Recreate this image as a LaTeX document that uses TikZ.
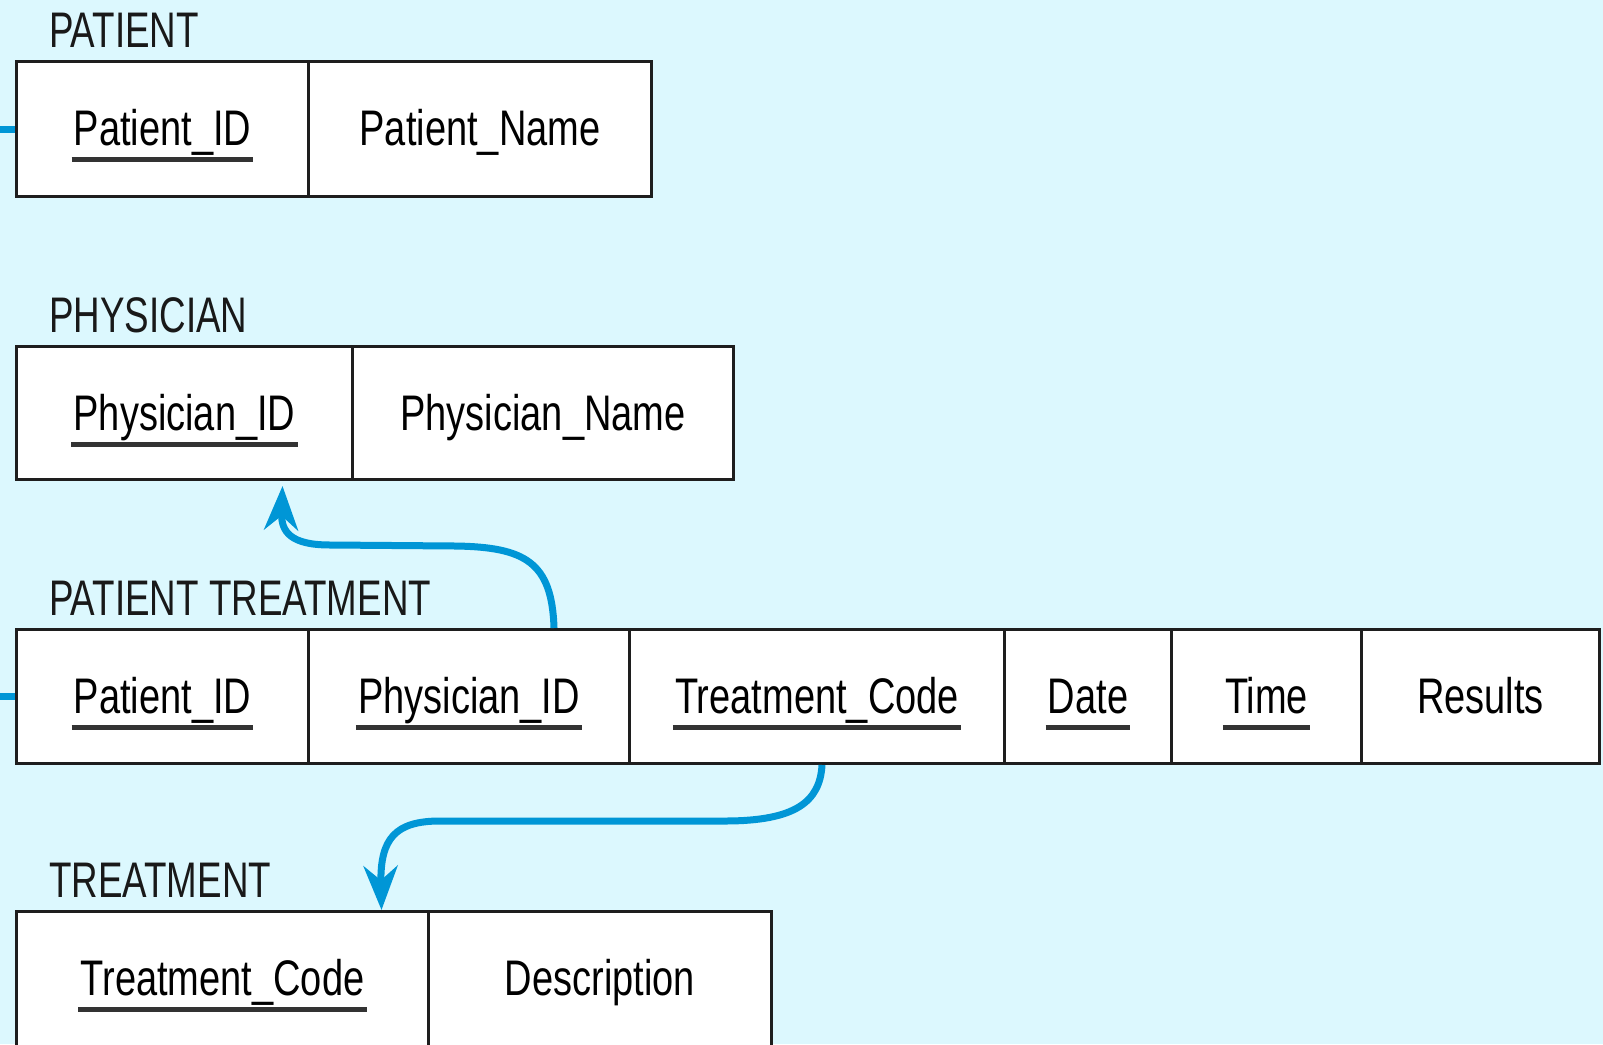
\documentclass[tikz,border=0pt]{standalone}
\usepackage{fontspec}
\newfontfamily\fieldfont[FakeStretch=0.76]{Liberation Sans}
\newfontfamily\titlefont[FakeStretch=0.735]{Liberation Sans}
\usetikzlibrary{arrows.meta}

\definecolor{bgcyan}{HTML}{DCF8FE}
\definecolor{linkblue}{HTML}{0096D6}
\definecolor{rulegray}{HTML}{1E1E1E}
\definecolor{ulgray}{HTML}{333333}

\tikzset{
  cellbox/.style={draw=rulegray, line width=3pt, fill=white, rectangle,
                  anchor=north west, inner sep=0pt},
  fieldtext/.style={anchor=base, inner sep=0pt, text=black,
                    font=\fieldfont\fontsize{50}{60}\selectfont},
  tabletitle/.style={anchor=base west, inner sep=0pt, text=black!90,
                     font=\titlefont\fontsize{50}{60}\selectfont},
  keyline/.style={draw=ulgray, line width=5pt},
  fklink/.style={draw=linkblue, line width=7pt},
  fkarrow/.style={fklink, -{Stealth[length=44pt,width=34pt]}},
}

% cell: name, left x, right x, top y, height
\newcommand\ercell[5]{%
  \node[cellbox, minimum width={(#3-#2)*1pt}, minimum height={#5*1pt}] (#1) at (#2,#4) {};}
% plain attribute text centred in a cell
\newcommand\erfield[2]{%
  \node[fieldtext] (#1t) at ([yshift=-85pt]#1.north) {#2};}
% key attribute: text plus underline
\newcommand\erkey[2]{%
  \erfield{#1}{#2}%
  \draw[keyline] ([xshift=-2pt,yshift=-14pt]#1t.base west) -- ([xshift=2pt,yshift=-14pt]#1t.base east);}

\begin{document}
\begin{tikzpicture}[x=1pt, y=-1pt]
  \useasboundingbox (0,0) rectangle (1603,1044);
  \clip (0,0) rectangle (1603,1044);
  \fill[bgcyan] (0,0) rectangle (1603,1044);

  % PATIENT
  \ercell{pa1}{15}{307}{60}{135}
  \ercell{pa2}{307}{650}{60}{135}
  \node[tabletitle] (patT) at ([xshift=34pt,yshift=13pt]pa1.north west) {PATIENT};
  \erkey{pa1}{Patient\_ID}
  \erfield{pa2}{Patient\_Name}

  % PHYSICIAN
  \ercell{ph1}{15}{351}{345}{133}
  \ercell{ph2}{351}{732}{345}{133}
  \node[tabletitle] (phyT) at ([xshift=34pt,yshift=13pt]ph1.north west) {PHYSICIAN};
  \erkey{ph1}{Physician\_ID}
  \erfield{ph2}{Physician\_Name}

  % PATIENT TREATMENT
  \ercell{pt1}{15}{307}{628}{134}
  \ercell{pt2}{307}{628}{628}{134}
  \ercell{pt3}{628}{1003}{628}{134}
  \ercell{pt4}{1003}{1170}{628}{134}
  \ercell{pt5}{1170}{1360}{628}{134}
  \ercell{pt6}{1360}{1598}{628}{134}
  \node[tabletitle] (ptT) at ([xshift=34pt,yshift=13pt]pt1.north west) {PATIENT TREATMENT};
  \erkey{pt1}{Patient\_ID}
  \erkey{pt2}{Physician\_ID}
  \erkey{pt3}{Treatment\_Code}
  \erkey{pt4}{Date}
  \erkey{pt5}{Time}
  \erfield{pt6}{Results}

  % TREATMENT
  \ercell{tr1}{15}{427}{910}{160}
  \ercell{tr2}{427}{770}{910}{160}
  \node[tabletitle] (trT) at ([xshift=34pt,yshift=13pt]tr1.north west) {TREATMENT};
  \erkey{tr1}{Treatment\_Code}
  \erfield{tr2}{Description}

  % foreign keys
  \draw[fklink] (pt1.west) -- ++(-40,0) |- (pa1.west);
  \draw[fkarrow] ([xshift=85pt]pt2.north)
    .. controls (552,562) and (525,547) .. (455,546) -- (330,545)
    .. controls (291,545) and (281,532) .. ([xshift=98pt,yshift=-5pt]ph1.south);
  \draw[fkarrow] ([xshift=5pt]pt3.south)
    .. controls (820,802) and (795,821) .. (725,821) -- (440,821)
    .. controls (396,821) and (380,838) .. ([xshift=159pt]tr1.north);
\end{tikzpicture}
\end{document}
